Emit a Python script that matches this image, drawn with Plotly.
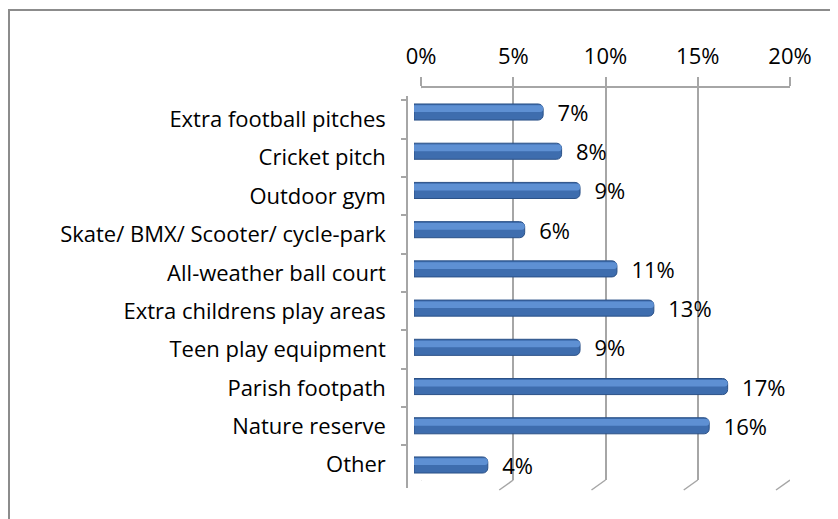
import plotly.graph_objects as go

categories = ["Extra football pitches", "Cricket pitch", "Outdoor gym",
              "Skate/ BMX/ Scooter/ cycle-park", "All-weather ball court",
              "Extra childrens play areas", "Teen play equipment",
              "Parish footpath", "Nature reserve", "Other"]
values = [7, 8, 9, 6, 11, 13, 9, 17, 16, 4]
tick_vals = [0, 5, 10, 15, 20]
tick_text = ["0%", "5%", "10%", "15%", "20%"]

OFF = 8  # page body margin
W, H = 838 - OFF, 519 - OFF
FONT = "Open Sans"
FS = 22
GRID = "#A6A6A6"


def fx(px):
    return (px - OFF) / W


def fy(px):
    return 1 - (px - OFF) / H


fig = go.Figure()

# invisible trace to hold the back-wall grid subplot
fig.add_trace(go.Scatter(x=[0], y=[0], mode="markers", marker=dict(opacity=0),
                         xaxis="x", yaxis="y", hoverinfo="skip", showlegend=False))

# cylinder body
fig.add_trace(go.Bar(
    x=values, y=categories, orientation="h", xaxis="x2", yaxis="y2",
    width=0.41, offset=-0.205,
    marker=dict(color="#3E6DAE", line=dict(color="#2B5187", width=1), cornerradius=5),
    texttemplate="  %{x:.0f}%", textposition="outside", constraintext="none",
    textfont=dict(family=FONT, size=FS, color="#000000"),
    cliponaxis=False, showlegend=False, hoverinfo="skip"))
# highlight
fig.add_trace(go.Bar(
    x=values, y=categories, orientation="h", xaxis="x2", yaxis="y2",
    width=0.17, offset=-0.17,
    marker=dict(color="#5E90D3", line=dict(width=0), cornerradius=3),
    showlegend=False, hoverinfo="skip"))

# front category axis holder
fig.add_trace(go.Scatter(x=[0] * len(categories), y=categories, mode="markers",
                         marker=dict(opacity=0), xaxis="x2", yaxis="y3",
                         hoverinfo="skip", showlegend=False))

shapes = []
dx = 14 / 18.45
for t in tick_vals:
    shapes.append(dict(type="line", xref="x", yref="paper",
                       x0=t, y0=fy(480), x1=t - dx, y1=fy(490),
                       line=dict(color=GRID, width=1.5)))
shapes.append(dict(type="line", xref="x", yref="paper",
                   x0=0, y0=fy(88), x1=-dx, y1=fy(96),
                   line=dict(color=GRID, width=1.5)))
shapes.append(dict(type="rect", xref="paper", yref="paper",
                   x0=fx(9), y0=-0.05, x1=1.02, y1=fy(10),
                   line=dict(color="#8C8C8C", width=2), layer="below"))

fig.update_layout(
    width=W, height=H,
    margin=dict(l=0, r=0, t=0, b=0, autoexpand=False),
    paper_bgcolor="white", plot_bgcolor="rgba(0,0,0,0)",
    barmode="overlay",
    font=dict(family=FONT, size=FS, color="#000000"),
    shapes=shapes,
    xaxis=dict(domain=[fx(421), fx(790)], range=[0, 20], side="top", anchor="y",
               tickvals=tick_vals, ticktext=tick_text, automargin=False,
               showgrid=True, gridcolor=GRID, gridwidth=1.5,
               ticks="outside", ticklen=9, tickcolor=GRID, tickwidth=1.5,
               showline=True, linecolor=GRID, linewidth=1.5, zeroline=False,
               ticklabelstandoff=4,
               tickfont=dict(family=FONT, size=FS, color="#000000")),
    yaxis=dict(domain=[fy(480), fy(88)], range=[0, 1], anchor="x", automargin=False,
               showgrid=False, showticklabels=False, zeroline=False, showline=False),
    xaxis2=dict(domain=[fx(414), fx(783)], range=[0, 20], anchor="y2",
                automargin=False, visible=False),
    yaxis2=dict(domain=[fy(484.6), fy(92.4)], type="category",
                categoryorder="array", categoryarray=categories, automargin=False,
                autorange="reversed", anchor="x2", visible=False),
    yaxis3=dict(domain=[fy(488), fy(96)], type="category",
                categoryorder="array", categoryarray=categories,
                autorange="reversed", anchor="free", position=fx(407),
                automargin=False,
                showline=True, linecolor=GRID, linewidth=1.5,
                ticks="outside", ticklen=5, tickcolor=GRID, tickwidth=1.5,
                tickson="boundaries", showgrid=False, zeroline=False,
                ticklabelstandoff=16,
                tickfont=dict(family=FONT, size=FS, color="#000000")),
)

fig.write_html("out.html")
